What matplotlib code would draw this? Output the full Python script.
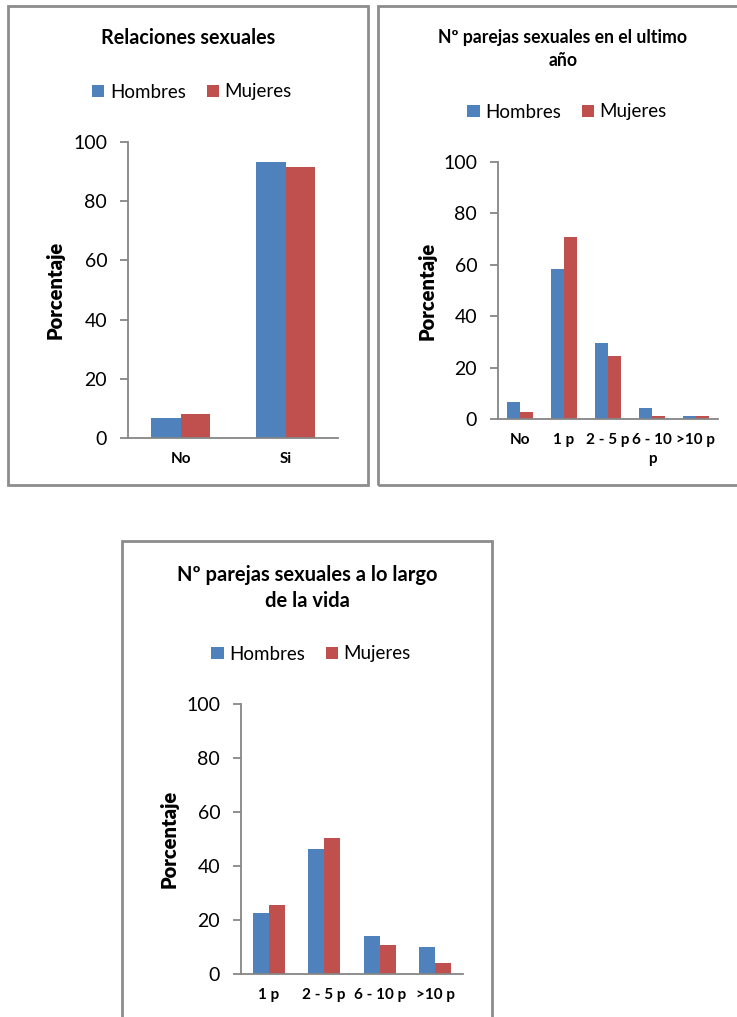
import matplotlib
matplotlib.use("Agg")
import matplotlib.pyplot as plt
from matplotlib.patches import Rectangle
import numpy as np

plt.rcParams['font.family'] = ['Lato', 'DejaVu Sans']

series = ["Hombres", "Mujeres"]
colors = ["#4F81BD", "#C0504D"]

# Panel 1: sexual relations
cats_rel = ["No", "Si"]
hombres_rel = [6.6, 93.3]
mujeres_rel = [8.2, 91.7]

# Panel 2: partners in the last year
cats_year = ["No", "1 p", "2 - 5 p", "6 - 10\np", ">10 p"]
hombres_year = [6.7, 58.4, 29.4, 4.4, 1.3]
mujeres_year = [2.6, 70.7, 24.4, 1.2, 1.2]

# Panel 3: partners over lifetime
cats_life = ["1 p", "2 - 5 p", "6 - 10 p", ">10 p"]
hombres_life = [22.5, 46.2, 14.1, 10.0]
mujeres_life = [25.5, 50.4, 10.8, 4.2]

W, H = 737, 1017
fig = plt.figure(figsize=(W / 100, H / 100), dpi=100)
AXIS_GRAY = "#868686"
BORDER_GRAY = "#8C8C8C"


def fx(px):
    return px / W


def fy(py):
    return 1 - py / H


def border(x0, y0, x1, y1):
    fig.patches.append(Rectangle((fx(x0), fy(y1)), fx(x1) - fx(x0), fy(y0) - fy(y1),
                                 transform=fig.transFigure, fill=False,
                                 edgecolor=BORDER_GRAY, linewidth=2.0, zorder=0))


def panel(box, cats, h, m, title_lines, title_y, title_x, title_size, legend_xy, ylabel_x):
    left, top, right, bottom = box
    ax = fig.add_axes([fx(left), fy(bottom), fx(right) - fx(left), fy(top) - fy(bottom)])
    x = np.arange(len(cats))
    bw = 0.285
    ax.bar(x - bw / 2, h, bw, color=colors[0], label=series[0])
    ax.bar(x + bw / 2, m, bw, color=colors[1], label=series[1])
    ax.set_xlim(-0.5, len(cats) - 0.5)
    ax.set_ylim(0, 100)
    ax.set_yticks([0, 20, 40, 60, 80, 100])
    ax.set_xticks(x)
    ax.set_xticklabels(cats, fontweight="bold", fontsize=11, linespacing=1.5)
    for s in ["top", "right"]:
        ax.spines[s].set_visible(False)
    for s in ["left", "bottom"]:
        ax.spines[s].set_color(AXIS_GRAY)
        ax.spines[s].set_linewidth(1.3)
    ax.tick_params(axis="y", length=6, width=1.3, color=AXIS_GRAY, labelsize=14, pad=9)
    ax.tick_params(axis="x", length=0, pad=10)
    ax.patch.set_alpha(0)
    for i, line in enumerate(title_lines):
        fig.text(fx(title_x), fy(title_y[i]), line, ha="center", va="center",
                 fontsize=title_size, fontweight="bold")
    fig.text(fx(ylabel_x), (fy(top) + fy(bottom)) / 2, "Porcentaje", rotation=90,
             ha="center", va="center", fontsize=14.5, fontweight="heavy")
    ax.legend(loc="center", bbox_to_anchor=(fx(legend_xy[0]), fy(legend_xy[1])),
              bbox_transform=fig.transFigure, ncol=2, frameon=False, fontsize=13.5,
              handlelength=0.65, handleheight=0.65, handletextpad=0.3,
              columnspacing=1.1, borderaxespad=0)
    return ax


border(8, 6, 368, 485)
border(378, 6, 745, 485)
border(122, 541, 492, 1030)

panel((128, 142, 338, 438), cats_rel, hombres_rel, mujeres_rel,
      ["Relaciones sexuales"], [38], 188, 14.2, (192, 92), 55)
panel((498, 162, 718, 419), cats_year, hombres_year, mujeres_year,
      ["Nº parejas sexuales en el ultimo", "año"], [37, 61], 563, 12.7, (567, 112), 427)
panel((241, 704, 463, 974), cats_life, hombres_life, mujeres_life,
      ["Nº parejas sexuales a lo largo", "de la vida"], [575, 601], 307, 14.5, (311, 654), 169)

fig.savefig("out.png", dpi=100)
